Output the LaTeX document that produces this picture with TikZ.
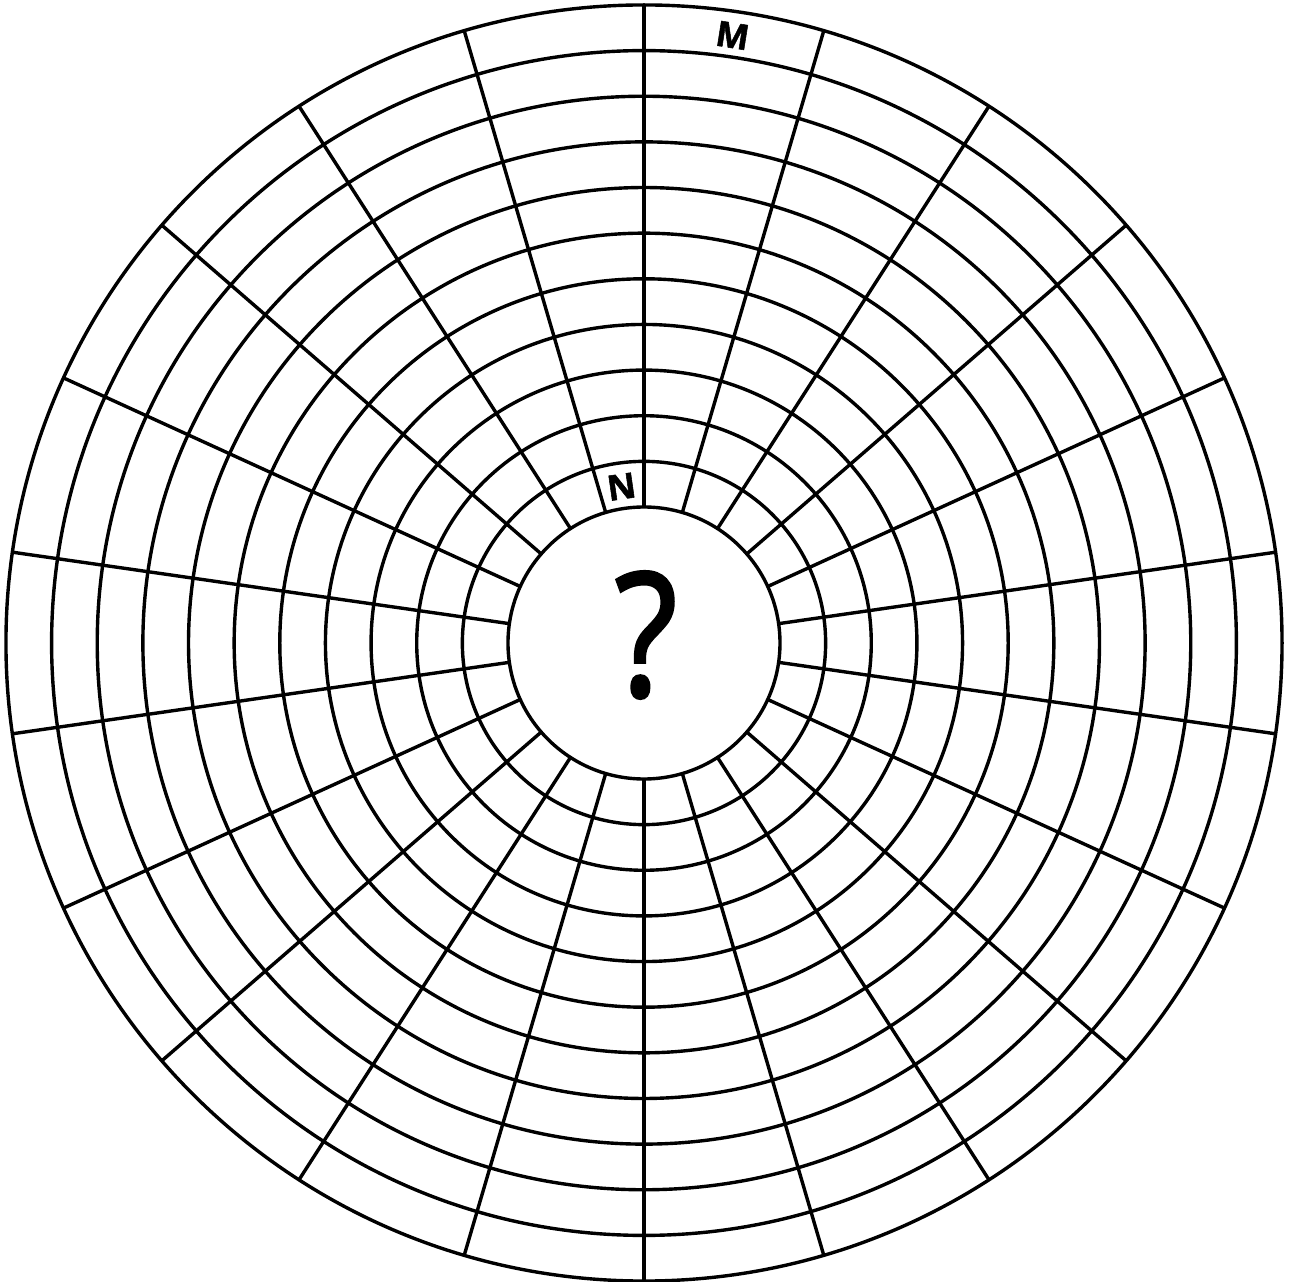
\documentclass[tikz,border=0pt]{standalone}
\usepackage{fontspec}
\setmainfont{Open Sans}
\newfontfamily\qfont[FakeStretch=0.84,FakeBold=1.8]{Open Sans}
\newfontfamily\lblfont[FakeBold=1.5]{Open Sans Bold}
\begin{document}
\begin{tikzpicture}[x=1pt,y=1pt,
  gridline/.style={line width=3.4pt, black},
  ringlabel/.style={inner sep=0pt, font=\fontsize{35}{35}\lblfont}]
\useasboundingbox (-644,-638) rectangle (645,643);
% concentric circles
\foreach \i in {0,...,11}{
  \draw[gridline] (0,0) circle[radius={136pt+\i*45.64pt}];
}
% spokes
\foreach \k in {0,...,21}{
  \draw[gridline] ({90+\k*360/22}:136pt) -- ({90+\k*360/22}:638pt);
}
\node[ringlabel, rotate=-9] (m) at ({90-8.3}:614pt) {M};
\node[ringlabel, rotate=8.18] (n) at ({90+8.2}:158pt) {N};
\node[inner sep=0pt, font=\fontsize{172}{172}\qfont] (q) at (2,8) {?};
\end{tikzpicture}
\end{document}
